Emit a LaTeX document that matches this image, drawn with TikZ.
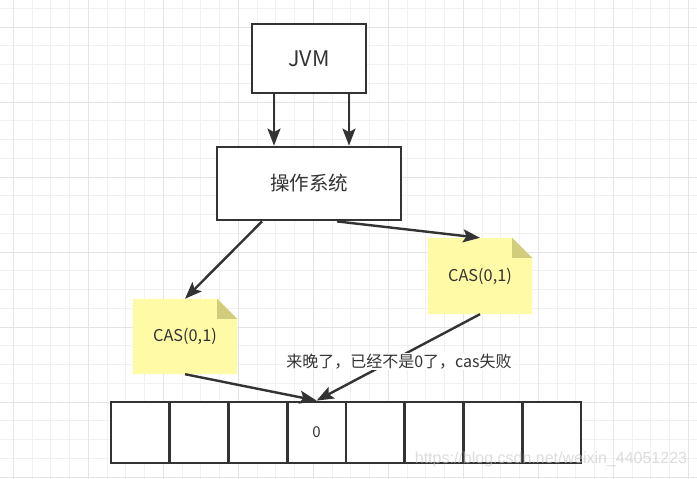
\documentclass[tikz,border=0pt]{standalone}
\usepackage{fontspec}
\setmainfont{Noto Sans CJK SC}
\newfontfamily\wmfont{Liberation Sans}
\usepackage{xcolor}
\usetikzlibrary{arrows.meta,backgrounds}
\definecolor{ink}{HTML}{333333}
\definecolor{notefill}{HTML}{FFFAA6}
\definecolor{notefold}{HTML}{D2CD7C}
\definecolor{gridminor}{HTML}{F1F1F1}
\definecolor{gridmajor}{HTML}{E4E4E4}

\begin{document}
\begin{tikzpicture}[x=1pt, y=-1pt,
  box/.style={draw=ink, line width=2.8pt, text=ink, inner sep=0pt, fill=white},
  note/.style={text=ink, inner sep=0pt, font=\fontsize{16.3}{18}\selectfont, minimum width=104pt},
  cell/.style={box, minimum width=58.75pt, minimum height=61pt, font=\fontsize{15}{18}\selectfont},
  arr/.style={-{Stealth[length=17pt, width=13pt, inset=3.5pt]}, line width=2.4pt, draw=ink}]
  \useasboundingbox (0,0) rectangle (697,479);
  % canvas grid
  \begin{scope}[on background layer]
    \fill[white] (0,0) rectangle (697,479);
    \foreach \k in {0,...,36} \draw[gridminor, line width=1pt] ({13.3+18.75*\k},0) -- ++(0,479);
    \foreach \k in {0,...,25} \draw[gridminor, line width=1pt] (0,{8.3+18.75*\k}) -- ++(697,0);
    \foreach \k in {0,...,9} \draw[gridmajor, line width=1pt] ({13.3+75*\k},0) -- ++(0,479);
    \foreach \k in {0,...,6} \draw[gridmajor, line width=1pt] (0,{27.05+75*\k}) -- ++(697,0);
  \end{scope}

  \node[box, minimum width=114pt, minimum height=69pt, font=\fontsize{21.5}{24}\selectfont] (jvm) at (309,58.5) {JVM};
  \node[box, minimum width=184pt, minimum height=73pt, font=\fontsize{19.5}{22}\selectfont] (os) at (309,183.5) {操作系统};
  \node[note, minimum height=75pt] (casL) at (185,336.5) {CAS(0,1)};
  \node[note, minimum height=76pt] (casR) at (480,276) {CAS(0,1)};
  \foreach \i/\v in {0/{},1/{},2/{},3/0,4/{},5/{},6/{},7/{}}
    \node[cell] (c\i) at ({111+58.75*(\i+0.5)},432.5) {\v};

  % note bodies with folded corner
  \begin{scope}[on background layer]
    \foreach \n in {casL,casR} {
      \fill[notefill] (\n.south west) -- (\n.north west) -- ([xshift=-20pt]\n.north east)
        -- ([yshift=-20pt]\n.north east) -- (\n.south east) -- cycle;
      \fill[notefold] ([xshift=-20pt]\n.north east) -- ([xshift=-20pt, yshift=-20pt]\n.north east)
        -- ([yshift=-20pt]\n.north east) -- cycle;
    }
  \end{scope}

  \draw[arr] ([xshift=-35pt]jvm.south) -- ([xshift=-35pt]os.north);
  \draw[arr] ([xshift=40pt]jvm.south) -- ([xshift=40pt]os.north);
  \draw[arr] ([xshift=-47pt]os.south) -- (casL.north);
  \draw[arr] ([xshift=28pt]os.south) -- (casR.north);
  \draw[arr] (casL.south) -- (c3.north);
  \draw[arr] (casR.south) -- node[pos=0.545, xshift=8pt, fill=white, text=ink, inner sep=1pt, font=\fontsize{16}{18}\selectfont] (fail) {来晚了，已经不是0了，cas失败} (c3.north);

  \node[text=gray!45, opacity=0.6, font=\wmfont\fontsize{16}{18}\selectfont] (wm) at (551,459) {https://blog.csdn.net/weixin\_44051223};
\end{tikzpicture}
\end{document}
